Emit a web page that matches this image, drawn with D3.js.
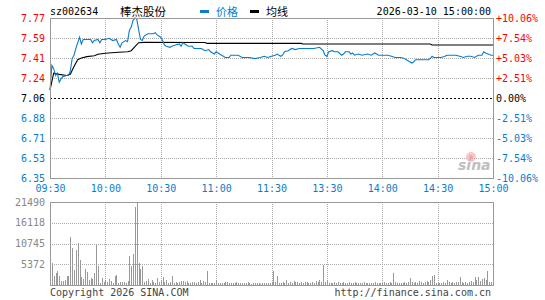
<!DOCTYPE html>
<html lang="zh">
  <head>
    <meta charset="utf-8">
    <title>棒杰股份 分时</title>
    <script src="https://cdn.jsdelivr.net/npm/d3@7"></script>
    <style>
      body { margin: 0; background: #fff; }
      text { font-family: "DejaVu Sans Mono", monospace; font-size: 10px; }
      .cjk { font-family: "Noto Sans CJK SC", sans-serif; }
      .axis path { display: none; }
      .grid line { stroke: #aaa; stroke-dasharray: 1,1; shape-rendering: crispEdges; }
    </style>
  </head>
  <body>
    <div id="chart"></div>
    <script>
      const code = 'sz002634';
      const stockName = '棒杰股份';
      const dateLabel = '2026-03-10 15:00:00';
      const prevClose = 7.06;

      // tick labels
      const priceLabels = ['7.77', '7.59', '7.41', '7.24', '7.06', '6.88', '6.71', '6.53', '6.35'];
      const pctLabels = ['+10.06%', '+7.54%', '+5.03%', '+2.51%', '0.00%', '-2.51%', '-5.03%', '-7.54%', '-10.06%'];
      const timeLabels = ['09:30', '10:00', '10:30', '11:00', '11:30', '13:30', '14:00', '14:30', '15:00'];
      const volTicks = [21490, 16118, 10745, 5372];

      // price line (minute index from the open, price)
      const priceMin = [0, 1, 2, 3, 4, 5, 6, 7, 9, 10, 11, 12, 13, 14, 15, 16, 17, 18, 19, 21, 22, 23, 24, 26, 27, 28, 30, 32, 34, 36,
        37, 38, 39, 41, 42, 43, 44, 45, 46, 47, 48, 49, 50, 51, 53, 54, 56, 57, 58, 60, 61, 62, 63, 65, 66, 68, 70, 71, 72, 73,
        75, 77, 78, 80, 82, 84, 86, 87, 89, 90, 91, 93, 95, 97, 98, 100, 102, 104, 106, 108, 111, 114, 116, 118, 120, 122, 123, 125, 126, 127,
        129, 131, 133, 135, 137, 139, 143, 146, 148, 149, 150, 151, 153, 154, 156, 158, 159, 160, 162, 163, 164, 165, 167, 169, 172, 174, 176, 178, 180, 183,
        185, 187, 190, 192, 194, 196, 197, 198, 201, 205, 206, 207, 208, 210, 212, 214, 215, 217, 218, 220, 222, 224, 226, 228, 230, 232, 234, 235, 236, 239, 240];
      const price = [7.13, 7.35, 7.32, 7.26, 7.28, 7.20, 7.23, 7.25, 7.26, 7.26, 7.30, 7.41, 7.44, 7.50, 7.55, 7.60, 7.54, 7.58, 7.58, 7.58, 7.58, 7.55, 7.57, 7.58, 7.55, 7.58, 7.58, 7.59, 7.57, 7.58,
        7.54, 7.51, 7.55, 7.57, 7.56, 7.66, 7.69, 7.75, 7.77, 7.76, 7.67, 7.58, 7.57, 7.61, 7.63, 7.63, 7.63, 7.64, 7.62, 7.60, 7.57, 7.53, 7.52, 7.51, 7.52, 7.53, 7.54, 7.52, 7.55, 7.54,
        7.52, 7.52, 7.50, 7.50, 7.50, 7.48, 7.49, 7.47, 7.45, 7.47, 7.46, 7.44, 7.42, 7.42, 7.44, 7.44, 7.44, 7.42, 7.42, 7.42, 7.41, 7.42, 7.43, 7.42, 7.43, 7.44, 7.45, 7.43, 7.44, 7.47,
        7.48, 7.50, 7.49, 7.50, 7.50, 7.50, 7.50, 7.51, 7.48, 7.44, 7.43, 7.47, 7.48, 7.47, 7.47, 7.44, 7.45, 7.47, 7.47, 7.45, 7.46, 7.44, 7.45, 7.44, 7.45, 7.44, 7.46, 7.44, 7.44, 7.44,
        7.43, 7.42, 7.42, 7.41, 7.39, 7.37, 7.38, 7.40, 7.40, 7.40, 7.41, 7.43, 7.42, 7.42, 7.42, 7.43, 7.44, 7.44, 7.44, 7.44, 7.43, 7.42, 7.43, 7.43, 7.42, 7.44, 7.44, 7.47, 7.46, 7.44, 7.44];

      // average price line
      const avgMin = [0, 2, 5, 9, 11, 13, 15, 17, 20, 24, 26, 30, 37, 42, 44, 46, 48, 51, 84, 85, 136, 137, 206, 207, 240];
      const avgPrice = [7.13, 7.28, 7.27, 7.26, 7.27, 7.34, 7.40, 7.415, 7.427, 7.435, 7.448, 7.457, 7.466, 7.471, 7.48, 7.515, 7.551, 7.554, 7.553, 7.545, 7.545, 7.539, 7.539, 7.53, 7.53];

      // volume per minute, 241 bars
      const volume = [
        7500, 5700, 2300, 3000, 3600, 2400, 1000, 1100, 1400, 2400, 2300, 12500, 9700, 3900, 9000, 10800, 6500, 2200, 1500, 4200,
        3300, 1200, 1700, 1600, 3200, 10400, 4800, 600, 1800, 900, 1400, 700, 1500, 1100, 600, 2300, 2500, 500, 900, 700,
        800, 500, 1000, 7500, 5000, 8000, 20200, 21490, 5800, 4200, 4800, 700, 1000, 1600, 600, 1300, 900, 600, 1800, 700,
        1100, 2100, 900, 1200, 600, 800, 2400, 500, 700, 400, 900, 1100, 1000, 700, 1000, 500, 600, 900, 700, 500,
        800, 1200, 600, 1000, 700, 3700, 500, 400, 600, 500, 1400, 600, 500, 400, 600, 800, 700, 500, 600, 400,
        500, 700, 600, 500, 400, 600, 500, 700, 400, 300, 500, 600, 400, 500, 300, 400, 500, 600, 400, 500,
        700, 3700, 900, 2400, 600, 500, 700, 600, 1300, 500, 800, 600, 1000, 700, 900, 600, 800, 500, 700, 900,
        600, 500, 800, 600, 1100, 900, 1300, 800, 5200, 900, 1300, 500, 600, 400, 700, 500, 900, 600, 500, 700,
        400, 600, 800, 500, 600, 700, 500, 400, 600, 500, 700, 600, 500, 400, 600, 500, 700, 500, 400, 600,
        500, 800, 600, 500, 700, 600, 3200, 700, 500, 600, 400, 500, 800, 600, 900, 1800, 700, 500, 900, 600,
        1000, 700, 600, 800, 1100, 900, 1300, 2400, 2700, 500, 700, 400, 600, 800, 500, 1300, 700, 600, 800, 500,
        700, 900, 2000, 700, 500, 900, 600, 800, 1100, 900, 2000, 1200, 2100, 1000, 1600, 1700, 1200, 3700, 900, 700,
        1500];

      const svg_width = 545;
      const svg_height = 300;
      const left = 50, right = 493;
      const priceTop = 18, priceBottom = 178;
      const volTop = 202, volBottom = 285;
      const blue = '#0a7cd0';
      const red = '#ff0000';

      const svg = d3.select('#chart')
        .append('svg')
        .attr('width', svg_width)
        .attr('height', svg_height);

      //scales
      const x_scale = d3.scaleLinear().domain([0, 240]).range([left, right]);
      const y_scale = d3.scaleLinear()
        .domain([prevClose * (1 - 0.1006), prevClose * (1 + 0.1006)])
        .range([priceBottom, priceTop]);
      const vol_scale = d3.scaleLinear().domain([0, d3.max(volTicks)]).range([volBottom, volTop]);

      const gridVals = d3.range(9).map(i => y_scale.domain()[1] - i * (y_scale.domain()[1] - y_scale.domain()[0]) / 8);
      const timeVals = d3.range(9).map(i => i * 30);

      //price grid
      const pg = svg.append('g').attr('class', 'grid');
      pg.selectAll('.h').data(gridVals.slice(1, 8).filter((d, i) => i !== 3)).enter().append('line')
        .attr('x1', left).attr('x2', right)
        .attr('y1', d => Math.round(y_scale(d)) + 0.5).attr('y2', d => Math.round(y_scale(d)) + 0.5);
      pg.selectAll('.v').data(timeVals.slice(1, 8)).enter().append('line')
        .attr('x1', d => Math.round(x_scale(d)) + 0.5).attr('x2', d => Math.round(x_scale(d)) + 0.5)
        .attr('y1', priceTop).attr('y2', priceBottom);

      //prev close dashed line
      svg.append('line')
        .attr('x1', left).attr('x2', right)
        .attr('y1', Math.round(y_scale(prevClose)) + 0.5).attr('y2', Math.round(y_scale(prevClose)) + 0.5)
        .attr('stroke', '#000').attr('stroke-dasharray', '2,2').style('shape-rendering', 'crispEdges');

      //volume grid
      const vg = svg.append('g').attr('class', 'grid');
      vg.selectAll('.h').data(volTicks.slice(1)).enter().append('line')
        .attr('x1', left).attr('x2', right)
        .attr('y1', d => Math.round(vol_scale(d)) + 0.5).attr('y2', d => Math.round(vol_scale(d)) + 0.5);
      vg.selectAll('.v').data(timeVals.slice(1, 8)).enter().append('line')
        .attr('x1', d => Math.round(x_scale(d)) + 0.5).attr('x2', d => Math.round(x_scale(d)) + 0.5)
        .attr('y1', volTop).attr('y2', volBottom);

      //sina watermark
      const wm = svg.append('g').attr('opacity', 0.75);
      wm.append('circle').attr('cx', 471).attr('cy', 157).attr('r', 5).attr('fill', '#f4b8b8');
      wm.append('circle').attr('cx', 471).attr('cy', 157).attr('r', 2).attr('fill', '#e88');
      wm.append('text').attr('x', 458).attr('y', 170)
        .style('font-family', 'DejaVu Sans').style('font-style', 'italic').style('font-weight', 'bold')
        .style('font-size', '14px').attr('fill', '#aaa').text('sina');

      //volume bars
      svg.append('g').selectAll('line').data(volume).enter().append('line')
        .attr('x1', (d, i) => Math.round(x_scale(i)) + 0.5)
        .attr('x2', (d, i) => Math.round(x_scale(i)) + 0.5)
        .attr('y1', volBottom)
        .attr('y2', d => vol_scale(d))
        .attr('stroke', '#999')
        .style('shape-rendering', 'crispEdges');

      //lines
      const priceLine = d3.line().x(d => x_scale(d[0])).y(d => y_scale(d[1]));
      svg.append('path')
        .datum(avgMin.map((m, i) => [m, avgPrice[i]]))
        .attr('d', priceLine).attr('fill', 'none').attr('stroke', '#000').attr('stroke-width', 1.1);
      svg.append('path')
        .datum(priceMin.map((m, i) => [m, price[i]]))
        .attr('d', priceLine).attr('fill', 'none').attr('stroke', blue).attr('stroke-width', 1.1);

      //frames
      svg.append('rect').attr('x', left + 0.5).attr('y', priceTop + 0.5)
        .attr('width', right - left).attr('height', priceBottom - priceTop)
        .attr('fill', 'none').attr('stroke', '#999');
      svg.append('rect').attr('x', left + 0.5).attr('y', volTop + 0.5)
        .attr('width', right - left).attr('height', volBottom - volTop)
        .attr('fill', 'none').attr('stroke', '#999');

      //axes
      const y_axis = d3.axisLeft(y_scale).tickValues(gridVals)
        .tickFormat((d, i) => priceLabels[i]).tickSize(0).tickPadding(5);
      svg.append('g').attr('class', 'axis').attr('transform', `translate(${left},0)`).call(y_axis)
        .selectAll('text').attr('fill', (d, i) => i < 4 ? red : i === 4 ? '#000' : blue);

      const pct_axis = d3.axisRight(y_scale).tickValues(gridVals)
        .tickFormat((d, i) => pctLabels[i]).tickSize(0).tickPadding(3);
      svg.append('g').attr('class', 'axis').attr('transform', `translate(${right},0)`).call(pct_axis)
        .selectAll('text').attr('fill', (d, i) => i < 4 ? red : i === 4 ? '#000' : blue);

      const x_axis = d3.axisBottom(x_scale).tickValues(timeVals)
        .tickFormat((d, i) => timeLabels[i]).tickSize(0).tickPadding(7);
      svg.append('g').attr('class', 'axis').attr('transform', `translate(0,${priceBottom})`).call(x_axis)
        .selectAll('text').attr('fill', blue);

      const vol_axis = d3.axisLeft(vol_scale).tickValues(volTicks)
        .tickFormat(d => String(d)).tickSize(0).tickPadding(5);
      svg.append('g').attr('class', 'axis').attr('transform', `translate(${left},0)`).call(vol_axis)
        .selectAll('text').attr('fill', '#888');

      svg.selectAll('.axis text').style('font-family', '"DejaVu Sans Mono", monospace').style('font-size', '10px');

      //header
      svg.append('text').attr('x', left).attr('y', 15).attr('fill', '#000').text(code);
      svg.append('text').attr('class', 'cjk').attr('x', 120).attr('y', 15.5)
        .style('font-size', '11.5px').attr('fill', '#000').text(stockName);
      svg.append('rect').attr('x', 200).attr('y', 10).attr('width', 9).attr('height', 3).attr('fill', blue);
      svg.append('text').attr('class', 'cjk').attr('x', 216).attr('y', 15.5)
        .style('font-size', '11px').attr('fill', blue).text('价格');
      svg.append('rect').attr('x', 250).attr('y', 10).attr('width', 9).attr('height', 3).attr('fill', '#000');
      svg.append('text').attr('class', 'cjk').attr('x', 266).attr('y', 15.5)
        .style('font-size', '11px').attr('fill', '#000').text('均线');
      svg.append('text').attr('x', 491).attr('y', 15).attr('text-anchor', 'end').attr('fill', '#000').text(dateLabel);

      //footer
      svg.append('text').attr('x', left).attr('y', 296).attr('fill', '#444').text('Copyright 2026 SINA.COM');
      svg.append('text').attr('x', 491).attr('y', 296).attr('text-anchor', 'end').attr('fill', '#444').text('http://finance.sina.com.cn');
    </script>
  </body>
</html>
